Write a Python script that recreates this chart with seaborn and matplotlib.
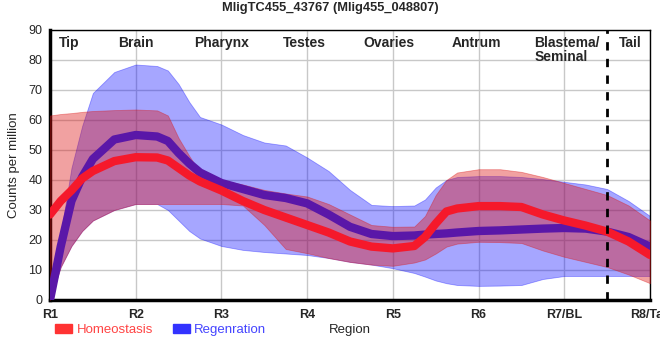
import numpy as np
import pandas as pd
import matplotlib
matplotlib.use("Agg")
import matplotlib.pyplot as plt
from matplotlib.patches import Patch
import seaborn as sns

# positions along the body (R1 .. R8), read at quarter steps (eighths where the curves bend)
pos = [1, 1.125, 1.25, 1.375, 1.5, 1.75, 2, 2.25, 2.375, 2.5, 2.625, 2.75, 3, 3.25, 3.5, 3.75,
       4, 4.25, 4.5, 4.75, 5, 5.25, 5.375, 5.5, 5.625, 5.75, 6, 6.25, 6.5, 6.75, 7, 7.25,
       7.5, 7.75, 8]

homeo_mean = [28.5, 33, 36.5, 40.5, 43, 46.3, 47.6, 47.5, 46.5, 44, 41.5, 39.5, 36.5, 33, 30, 27.5,
              25, 22.5, 19.5, 17.8, 17.2, 18, 21, 25.5, 29.5, 30.5, 31.3, 31.3, 31, 28.5, 26.5, 24.8,
              22.8, 19.5, 15]
homeo_low = [0, 11, 18, 23, 26.5, 30, 32, 32, 32, 32, 32, 32, 32, 31.5, 25, 17,
             15.6, 14, 12.7, 11.8, 11.4, 12.5, 13.5, 15.5, 17.8, 18.8, 19.4, 19.3, 19, 16.5, 14.4, 12.7,
             11, 8.5, 5.6]
homeo_high = [61.5, 62, 62.3, 62.7, 63, 63.3, 63.5, 63.2, 61.5, 54, 48, 42.5, 40, 38.5, 36.7, 35.5,
              34.5, 32, 28.5, 25, 24.4, 24.5, 28, 35, 40, 42.5, 43.6, 43.6, 42.7, 41, 39, 37,
              35, 31.5, 26.5]

regen_mean = [0, 17.8, 33, 41, 47, 53.5, 55, 54.5, 53, 49, 45.5, 42.5, 39, 37, 35, 34,
              32.2, 28.5, 24.4, 22, 21.3, 21.5, 21.8, 22, 22.2, 22.5, 23, 23.2, 23.5, 23.8, 24, 23.8,
              22.8, 21, 17.8]
regen_low = [0, 11, 18, 23, 26.5, 30, 32, 32, 30, 26.5, 23, 20.5, 18, 16.7, 16, 15.5,
             15, 14, 12.7, 11.8, 10.6, 9, 7.8, 6.5, 5.6, 5, 4.7, 4.8, 5, 7, 8, 8,
             8, 8, 8]
regen_high = [0, 22, 44, 58, 69, 76, 78.5, 78, 76.5, 72, 66, 61, 58.5, 55, 52.5, 51.5,
              47.5, 43, 36.7, 31.7, 31.3, 31.5, 33.5, 37.5, 40, 41, 41.3, 41.3, 41, 40.3, 39.4, 38.5,
              37, 33, 28]

tick_pos = [1, 2, 3, 4, 5, 6, 7, 8]
tick_labels = ["R1", "R2", "R3", "R4", "R5", "R6", "R7/BL", "R8/Tail"]
region_names = ["Tip", "Brain", "Pharynx", "Testes", "Ovaries", "Antrum", "Blastema/\nSeminal", "Tail"]
region_x = [1.22, 2, 3, 3.97, 4.95, 5.98, 6.65, 7.77]
region_ha = ["center"] * 6 + ["left", "center"]
tail_boundary = 7.5

df = pd.DataFrame({
    "pos": pos * 2,
    "cpm": homeo_mean + regen_mean,
    "condition": ["Homeostasis"] * len(pos) + ["Regenration"] * len(pos),
})

sns.set_style("whitegrid")
plt.rcParams["font.family"] = ["Liberation Sans", "DejaVu Sans"]

fig = plt.figure(figsize=(6.6, 3.6), dpi=100)
ax = fig.add_axes([50 / 660, 60 / 360, 600 / 660, 270 / 360])

# bands: regeneration first, homeostasis drawn over it
ax.fill_between(pos, regen_low, regen_high, color="#0000ff", alpha=0.35, lw=0.6, zorder=2)
ax.fill_between(pos, homeo_low, homeo_high, color="#dc1414", alpha=0.40, lw=0.6, zorder=3)

sns.lineplot(data=df[df.condition == "Regenration"], x="pos", y="cpm", color="#5a17a8",
             lw=6, ax=ax, legend=False, zorder=4)
sns.lineplot(data=df[df.condition == "Homeostasis"], x="pos", y="cpm", color="#f5192b",
             lw=6, ax=ax, legend=False, zorder=5)

ax.axvline(tail_boundary, color="black", ls=(0, (3, 3)), lw=2, zorder=6)

for name, x, ha in zip(region_names, region_x, region_ha):
    ax.text(x, 88, name, ha=ha, va="top", fontsize=10, fontweight="bold", zorder=7,
            linespacing=1.0)

ax.set_xlim(1, 8)
ax.set_ylim(0, 90)
ax.set_xticks(tick_pos)
ax.set_xticklabels(tick_labels, fontsize=9, fontweight="bold")
ax.set_yticks(range(0, 91, 10))
ax.tick_params(axis="y", labelsize=9, pad=2)
ax.tick_params(axis="x", pad=3)
ax.grid(color="#c8c8c8", lw=1)
ax.set_axisbelow(True)

for side in ["left", "bottom"]:
    ax.spines[side].set_color("black")
    ax.spines[side].set_linewidth(2.5)
for side in ["top", "right"]:
    ax.spines[side].set_color("black")
    ax.spines[side].set_linewidth(1)

ax.set_xlabel("Region", fontsize=9.5, labelpad=2)
ax.set_ylabel("Counts per million", fontsize=9.5, labelpad=6)
fig.suptitle("MligTC455_43767 (Mlig455_048807)", x=0.5, y=0.995, fontsize=9.3,
             fontweight="bold")

handles = [Patch(color="#ff3333"), Patch(color="#3333ff")]
ax.legend(handles, ["Homeostasis", "Regenration"], loc="upper left",
          bbox_to_anchor=(0.0, -0.07), ncol=2, frameon=False, fontsize=9.5,
          handlelength=1.3, handleheight=0.6, handletextpad=0.3, columnspacing=1.5,
          labelcolor=["#ff4444", "#4444ff"], borderaxespad=0)

fig.savefig("out.png", dpi=100)
